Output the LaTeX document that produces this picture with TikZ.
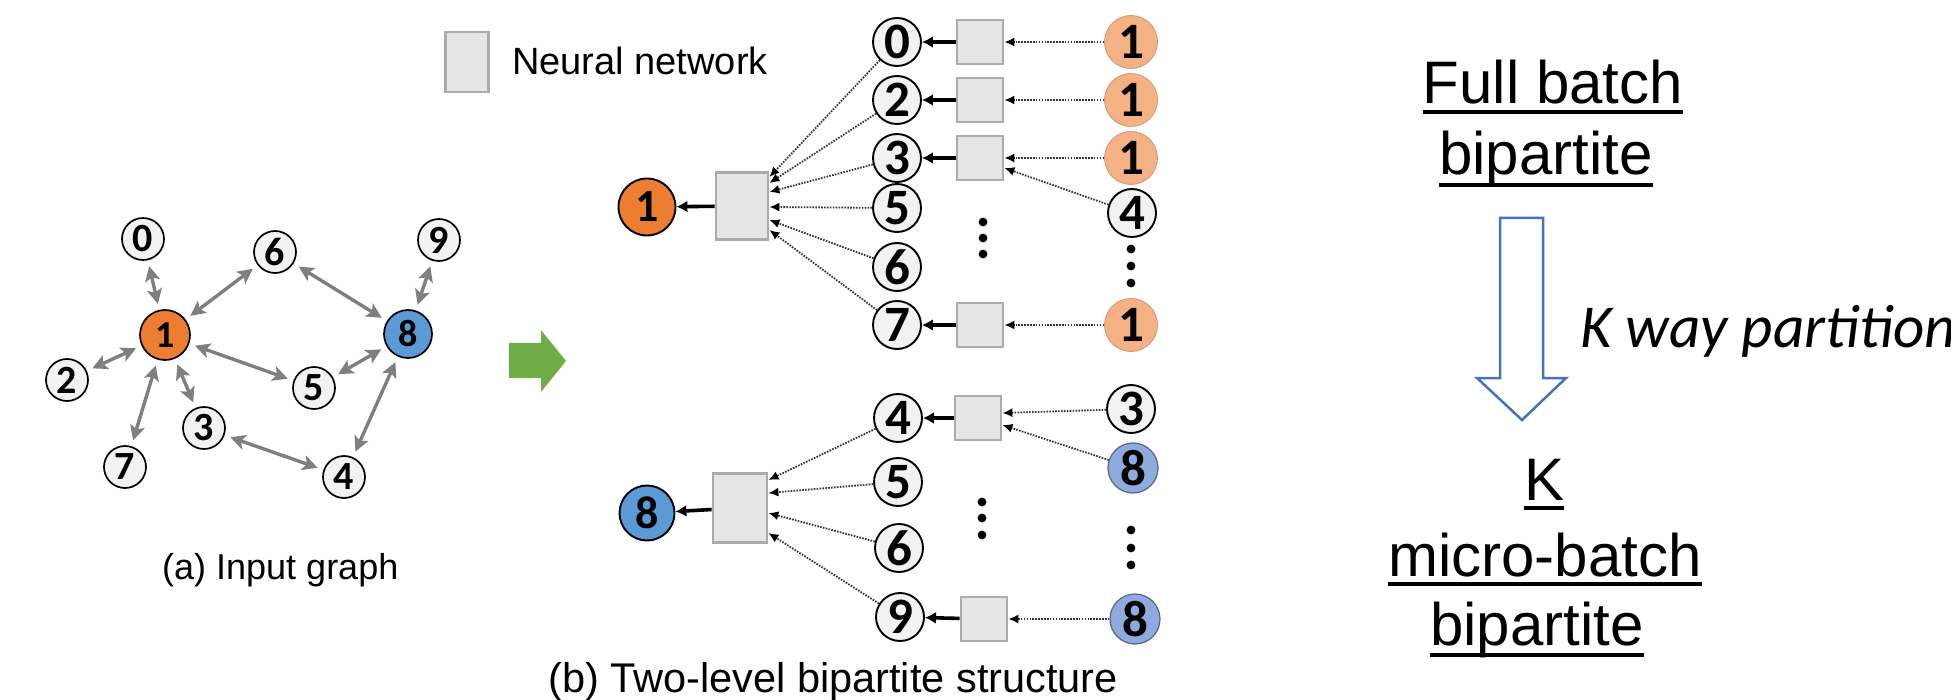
\documentclass[tikz,border=0pt]{standalone}
\usepackage{fontspec}
\setmainfont{Liberation Sans}
\newfontfamily\calib{Carlito}
\usetikzlibrary{arrows.meta,calc}
\newcommand\pxsize[1]{\fontsize{#1}{#1}\selectfont}
\definecolor{nodegray}{HTML}{F2F2F2}
\definecolor{edgegray}{HTML}{7F7F7F}
\definecolor{boxfill}{HTML}{E7E6E6}
\definecolor{boxdraw}{HTML}{ABABAB}
\definecolor{dotgray}{HTML}{333333}
\definecolor{orangeD}{HTML}{ED7D31}
\definecolor{orangeL}{HTML}{F4B183}
\definecolor{blueD}{HTML}{5B9BD5}
\definecolor{blueL}{HTML}{8FAADC}
\definecolor{greenA}{HTML}{70AD47}
\definecolor{blueLine}{HTML}{4472C4}
\tikzset{
  gnode/.style={circle, draw=black, line width=1.7pt, fill=nodegray, inner sep=0pt,
    minimum size=42pt, font=\calib\bfseries\pxsize{40}},
  gbig/.style={gnode, minimum size=50pt, font=\calib\bfseries\pxsize{38}},
  bnode/.style={circle, draw=black, line width=1.9pt, fill=nodegray, inner sep=0pt,
    minimum size=48pt, font=\calib\bfseries\pxsize{51}},
  bsrc/.style={bnode, fill=orangeL, draw=orangeL!85!black, line width=0.8pt, minimum size=53pt},
  bsrcblue/.style={bnode, fill=blueL, draw=blueL!60!black, line width=1.2pt, minimum size=50pt},
  btop/.style={bnode, minimum size=57pt, font=\calib\bfseries\pxsize{46}},
  nnbox/.style={rectangle, fill=boxfill, draw=boxdraw, line width=2.8pt, inner sep=0pt,
    minimum width=46pt, minimum height=44pt},
  nnbig/.style={nnbox, minimum width=52pt, minimum height=67pt},
  gedge/.style={draw=edgegray, line width=3.4pt,
    {Stealth[length=15pt,width=15pt,inset=3.5pt]}-{Stealth[length=15pt,width=15pt,inset=3.5pt]},
    shorten >=6pt, shorten <=6pt},
  dotarrow/.style={draw=dotgray, line width=1.8pt, dash pattern=on 1.6pt off 1.3pt,
    -{Latex[length=10pt,width=9pt,color=black]}},
  solidarrow/.style={draw=black, line width=3.6pt, -{Latex[length=11pt,width=12pt]}},
  ellipdot/.style={fill=black},
  rtext/.style={inner sep=0pt, anchor=base, font=\pxsize{60}},
  uline/.style={draw=black, line width=4pt},
}
\begin{document}
\begin{tikzpicture}[x=1pt,y=-1pt]
\useasboundingbox (0,0) rectangle (1951,700);

% ---------- (a) input graph ----------
\node[gnode] (a0) at (143,239) {0};
\node[gbig, fill=orangeD] (a1) at (165,335) {1};
\node[gnode] (a2) at (67,380) {2};
\node[gnode] (a3) at (204,428) {3};
\node[gnode] (a4) at (344,477) {4};
\node[gnode] (a5) at (314,388) {5};
\node[gnode] (a6) at (275,252) {6};
\node[gnode] (a7) at (125,467) {7};
\node[gbig, fill=blueD, minimum size=48pt] (a8) at (408,334) {8};
\node[gnode] (a9) at (439,240) {9};

\draw[gedge] (a0) -- (a1);
\draw[gedge] (a2) -- (a1);
\draw[gedge] (a7) -- (a1);
\draw[gedge] (a3) -- (a1);
\draw[gedge] (a5) -- (a1);
\draw[gedge] (a6) -- (a1);
\draw[gedge] (a6) -- (a8);
\draw[gedge] (a9) -- (a8);
\draw[gedge] (a5) -- (a8);
\draw[gedge] (a4) -- (a8);
\draw[gedge] (a3) -- (a4);

\node[inner sep=0pt, anchor=base west, font=\pxsize{36}] (capa) at (162,579) {(a) Input graph};

% ---------- transition arrow ----------
\fill[greenA] (509,343) -- (541,343) -- (541,330) -- (566,361) -- (541,392)
  -- (541,378) -- (509,378) -- cycle;

% ---------- legend ----------
\node[nnbox, minimum width=43pt, minimum height=60pt] (leg) at (467,62) {};
\node[inner sep=0pt, anchor=base west, font=\pxsize{38}] (legt) at (512,75) {Neural network};

% ---------- (b) upper bipartite ----------
\node[btop, fill=orangeD] (t1) at (647,207) {1};
\node[nnbig] (tB) at (742,206) {};

\node[bnode] (tl0) at (897,42) {0};
\node[bnode] (tl2) at (897,100) {2};
\node[bnode] (tl3) at (897,158) {3};
\node[bnode] (tl5) at (897,208) {5};
\node[bnode] (tl6) at (897,267) {6};
\node[bnode] (tl7) at (897,325) {7};

\node[nnbox] (tb0) at (980,42) {};
\node[nnbox] (tb2) at (980,100) {};
\node[nnbox] (tb3) at (980,158) {};
\node[nnbox] (tb7) at (980,325) {};

\node[bsrc] (tr0) at (1131,42) {1};
\node[bsrc] (tr2) at (1131,100) {1};
\node[bsrc] (tr3) at (1131,158) {1};
\node[bnode] (tr4) at (1132,213) {4};
\node[bsrc] (tr7) at (1131,325) {1};

\draw[solidarrow] (tB) -- (t1);
\draw[solidarrow] (tb0) -- (tl0);
\draw[solidarrow] (tb2) -- (tl2);
\draw[solidarrow] (tb3) -- (tl3);
\draw[solidarrow] (tb7) -- (tl7);

\draw[dotarrow] (tr0) -- (tb0);
\draw[dotarrow] (tr2) -- (tb2);
\draw[dotarrow] (tr3) -- (tb3);
\draw[dotarrow] (tr4) -- ([yshift=-10pt]tb3.east);
\draw[dotarrow] (tr7) -- (tb7);

\draw[dotarrow] (tl0) -- ([yshift=29pt]tB.east);
\draw[dotarrow] (tl2) -- ([yshift=23pt]tB.east);
\draw[dotarrow] (tl3) -- ([yshift=14pt]tB.east);
\draw[dotarrow] (tl5) -- ([yshift=-1pt]tB.east);
\draw[dotarrow] (tl6) -- ([yshift=-14pt]tB.east);
\draw[dotarrow] (tl7) -- ([yshift=-24pt]tB.east);

\foreach \yy in {222,238,254} \fill[ellipdot] (983,\yy) circle (4.4pt);
\foreach \yy in {249,266,283} \fill[ellipdot] (1131,\yy) circle (4.4pt);

% ---------- (b) lower bipartite ----------
\node[btop, fill=blueD, minimum size=55pt] (b8) at (647,513) {8};
\node[nnbig, minimum width=54pt, minimum height=69pt] (bB) at (740,508) {};

\node[bnode] (bl4) at (898,418) {4};
\node[bnode] (bl5) at (898,482) {5};
\node[bnode] (bl6) at (899,548) {6};
\node[bnode] (bl9) at (900,617) {9};

\node[nnbox] (bb4) at (978,418) {};
\node[nnbox] (bb9) at (984,619) {};

\node[bnode] (br3) at (1131,409) {3};
\node[bsrcblue] (br8a) at (1133,468) {8};
\node[bsrcblue] (br8b) at (1135,619) {8};

\draw[solidarrow] (bB) -- (b8);
\draw[solidarrow] (bb4) -- (bl4);
\draw[solidarrow] (bb9) -- (bl9);

\draw[dotarrow] (br3) -- ([yshift=5pt]bb4.east);
\draw[dotarrow] (br8a) -- ([yshift=-7pt]bb4.east);
\draw[dotarrow] (br8b) -- (bb9);

\draw[dotarrow] (bl4) -- ([yshift=28pt]bB.east);
\draw[dotarrow] (bl5) -- ([yshift=15pt]bB.east);
\draw[dotarrow] (bl6) -- ([yshift=-5pt]bB.east);
\draw[dotarrow] (bl9) -- ([yshift=-25pt]bB.east);

\foreach \yy in {502,518,535} \fill[ellipdot] (982,\yy) circle (4.4pt);
\foreach \yy in {530,548,565} \fill[ellipdot] (1131,\yy) circle (4.4pt);

\node[inner sep=0pt, anchor=base west, font=\pxsize{41.5}] (capb) at (548,692) {(b) Two-level bipartite structure};

% ---------- partition summary ----------
\node[rtext] (fb1) at (1553,104) {Full batch};
\node[rtext] (fb2) at (1546,175) {bipartite};
\node[rtext] (mk) at (1544,500) {K~};
\node[rtext] (mb1) at (1545,576) {micro-batch};
\node[rtext] (mb2) at (1537,645) {bipartite};
\foreach \n/\d in {fb1/8, fb2/10, mk/8, mb1/8, mb2/10}
  \draw[uline] ([yshift=-\d pt]\n.base west) -- ([yshift=-\d pt]\n.base east);

\draw[blueLine, line width=2.5pt, line join=miter]
  (1500,218) -- (1543,218) -- (1543,378) -- (1566,378) -- (1522,420)
  -- (1477,378) -- (1500,378) -- cycle;
\node[inner sep=0pt, anchor=base west, font=\calib\itshape\pxsize{61}] (kw) at (1580,348) {K way partition};
\end{tikzpicture}
\end{document}
